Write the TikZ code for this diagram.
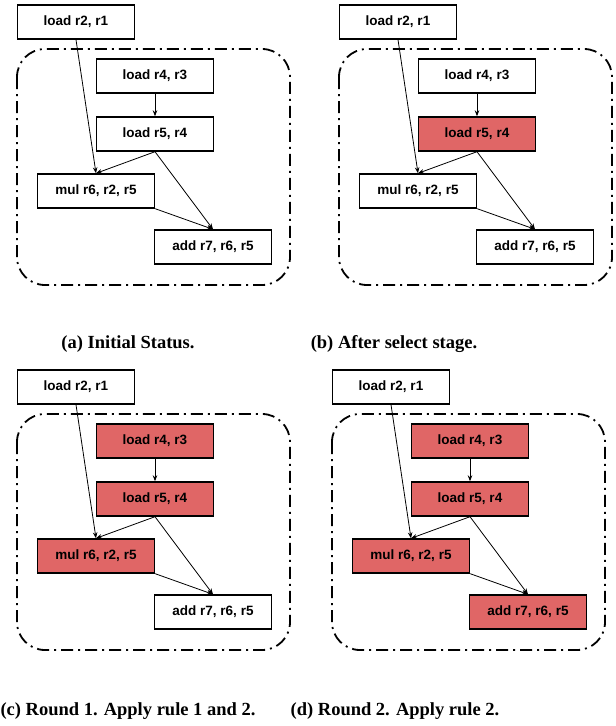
\documentclass[tikz,border=0pt]{standalone}
\usepackage{fontspec}
\setmainfont{Liberation Serif}
\newfontfamily\boxfont{Liberation Sans}
\usepackage{xcolor}
\usepackage{tikz}
\usetikzlibrary{arrows.meta}
\definecolor{selred}{HTML}{E06666}

\begin{document}
\begin{tikzpicture}[
    x=1pt, y=-1pt,
    op/.style={draw, line width=1.4pt, minimum width=117pt, minimum height=34pt, inner sep=0pt, font=\boxfont\bfseries\fontsize{13.5}{16}\selectfont},
    arr/.style={-{Stealth[length=6pt,width=4.5pt]}, line width=0.8pt},
    group/.style={line width=1.8pt, rounded corners=28pt, dash pattern=on 12pt off 5pt on 2pt off 5pt},
    subcap/.style={font=\bfseries\fontsize{18.5}{22}\selectfont}
]
\useasboundingbox (0,0) rectangle (616,726);
\foreach \p/\dx/\dy/\fa/\fb/\fc/\fd in {a/0/0/white/white/white/white,
    b/322/0/white/selred/white/white,
    c/0/365/selred/selred/selred/white,
    d/315/365/selred/selred/selred/selred} {
  \begin{scope}[shift={(\dx,\dy)}]
  \draw[group] (17,49) rectangle (290,285);
  \node[op] (r21\p) at (76,22) {load r2, r1};
  \node[op, fill=\fa] (r43\p) at (155,76) {load r4, r3};
  \node[op, fill=\fb] (r54\p) at (155,134) {load r5, r4};
  \node[op, fill=\fc] (mul\p) at (96,191) {mul r6, r2, r5};
  \node[op, fill=\fd] (add\p) at (213,247) {add r7, r6, r5};

  \draw[arr] (r21\p.south) -- (mul\p.north);
  \draw[arr] (r43\p) -- (r54\p);
  \draw[arr] (r54\p.south) -- (mul\p.north);
  \draw[arr] (r54\p.south) -- (add\p.north);
  \draw[arr] (mul\p.south east) -- (add\p.north);
  \end{scope}
}

\node[subcap] (capa) at (128,344) {(a) Initial Status.};
\node[subcap] (capb) at (394,344) {(b) After select stage.};
\node[subcap] (capc) at (128,711) {(c) Round 1. Apply rule 1 and 2.};
\node[subcap] (capd) at (395,711) {(d) Round 2. Apply rule 2.};
\end{tikzpicture}
\end{document}
